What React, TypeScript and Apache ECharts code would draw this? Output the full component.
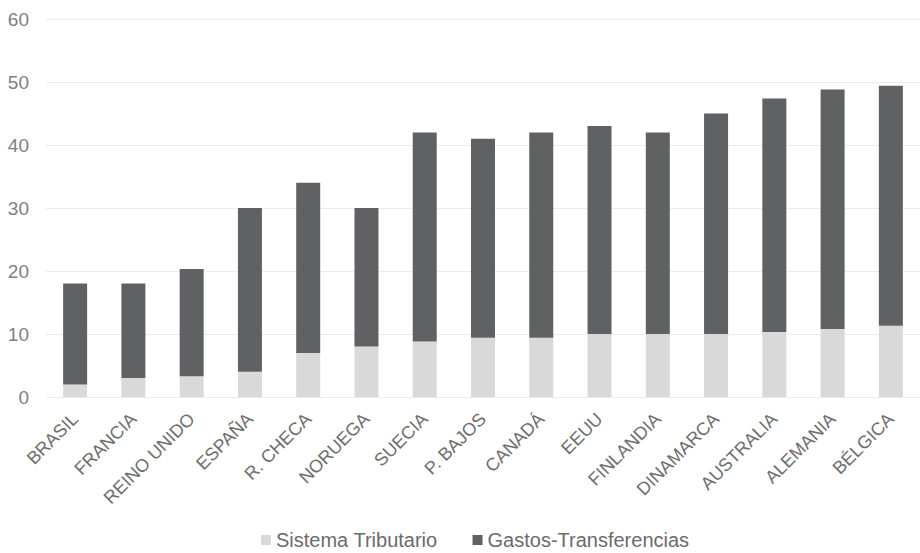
import React, { useEffect, useRef } from "react";
import * as echarts from "echarts";

const paises = [
  "BRASIL", "FRANCIA", "REINO UNIDO", "ESPAÑA", "R. CHECA", "NORUEGA", "SUECIA",
  "P. BAJOS", "CANADÁ", "EEUU", "FINLANDIA", "DINAMARCA", "AUSTRALIA", "ALEMANIA", "BÉLGICA",
];
const sistemaTributario = [2, 3, 3.3, 4, 7, 8, 8.8, 9.4, 9.4, 10, 10, 10, 10.3, 10.8, 11.3];
const gastosTransferencias = [16, 15, 17, 26, 27, 22, 33.2, 31.6, 32.6, 33, 32, 35, 37.1, 38, 38.1];
const yTicks = [0, 10, 20, 30, 40, 50, 60];

const FONT = "'Liberation Sans', Arial, sans-serif";

export default function App() {
  const ref = useRef<HTMLDivElement>(null);
  useEffect(() => {
    if (!ref.current) return;
    const chart = echarts.init(ref.current, null, { renderer: "svg" });
    chart.setOption({
      animation: false,
      backgroundColor: "#ffffff",
      textStyle: { fontFamily: FONT },
      grid: { left: 46, top: 19, width: 882, height: 378, containLabel: false },
      legend: {
        top: 530,
        left: 261,
        padding: 0,
        itemWidth: 10,
        itemHeight: 10,
        itemGap: 35,
        icon: "rect",
        textStyle: { fontSize: 20, color: "#6b6b6b", fontFamily: FONT },
        data: ["Sistema Tributario", "Gastos-Transferencias"],
      },
      xAxis: {
        type: "category",
        data: paises,
        axisLine: { show: false },
        axisTick: { show: false },
        axisLabel: {
          rotate: 45,
          interval: 0,
          margin: 19,
          fontSize: 18,
          color: "#6e6e6e",
          fontFamily: FONT,
        },
      },
      yAxis: {
        type: "value",
        min: yTicks[0],
        max: yTicks[yTicks.length - 1],
        interval: 10,
        axisLine: { show: false },
        axisTick: { show: false },
        axisLabel: { fontSize: 19, color: "#7f7f7f", margin: 17, fontFamily: FONT },
        splitLine: { lineStyle: { color: "#ebebeb", width: 1 } },
      },
      series: [
        {
          name: "Sistema Tributario",
          type: "bar",
          stack: "total",
          barWidth: 24,
          itemStyle: { color: "#d9d9d9" },
          data: sistemaTributario,
        },
        {
          name: "Gastos-Transferencias",
          type: "bar",
          stack: "total",
          barWidth: 24,
          itemStyle: { color: "#606163" },
          data: gastosTransferencias,
        },
      ],
    });
    return () => chart.dispose();
  }, []);
  return (
    <div
      ref={ref}
      style={{ position: "fixed", left: 0, top: 0, width: 920, height: 553 }}
    />
  );
}
